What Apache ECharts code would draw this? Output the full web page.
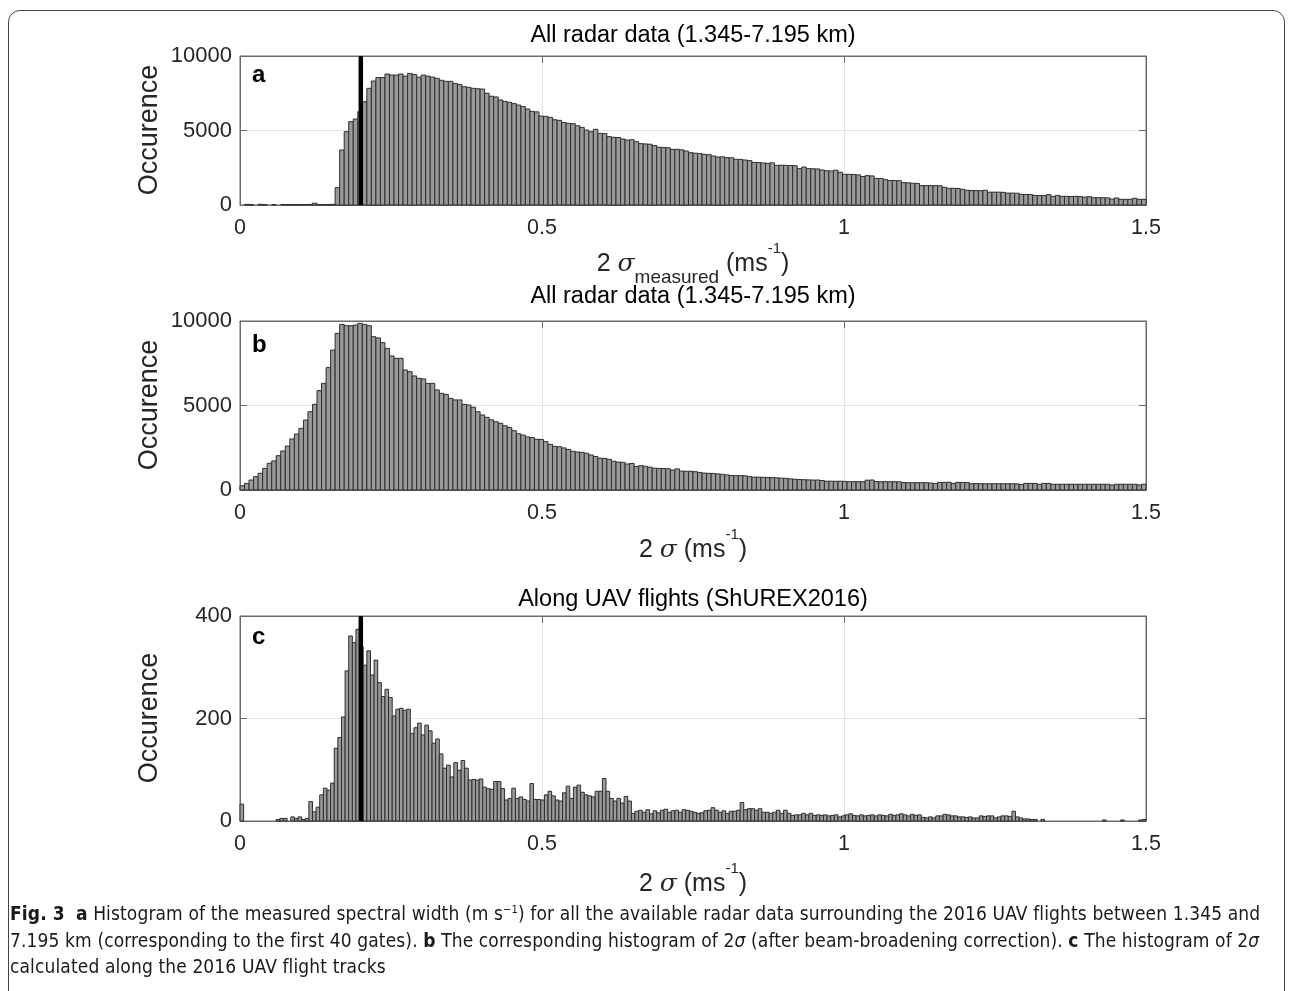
<!DOCTYPE html>
<html><head><meta charset="utf-8">
<script src="https://cdn.jsdelivr.net/npm/echarts@6/dist/echarts.min.js"></script>
<style>
html,body{margin:0;padding:0;background:#fff;width:1290px;height:991px;overflow:hidden;}
#chart{position:absolute;left:0;top:0;width:1290px;height:991px;}
#frame{position:absolute;left:8px;top:10px;width:1275px;height:1010px;border:1px solid #444;border-radius:12px;pointer-events:none;}
#caption{position:absolute;left:10px;top:900px;font-family:"Liberation Sans Narrow","DejaVu Sans Condensed","Open Sans",sans-serif;font-size:19px;letter-spacing:0.12px;line-height:26.5px;color:#1a1a1a;white-space:nowrap;}
#caption sup{font-size:11px;line-height:0;vertical-align:super;}
</style></head><body>
<div id="chart"></div>
<div id="frame"></div>
<div id="caption"><b>Fig. 3</b>&nbsp; <b>a</b> Histogram of the measured spectral width (m s<sup>−1</sup>) for all the available radar data surrounding the 2016 UAV flights between 1.345 and<br>7.195 km (corresponding to the first 40 gates). <b>b</b> The corresponding histogram of 2<i>σ</i> (after beam-broadening correction). <b>c</b> The histogram of 2<i>σ</i><br>calculated along the 2016 UAV flight tracks</div>
<script>
// ---------------- data ----------------
const binWidthAB = 0.0075;   // bin width of panels a and b (200 bins over 0-1.5)
const binWidthC = 0.006;     // bin width of panel c (250 bins over 0-1.5)
const xTickLabels = ['0', '0.5', '1', '1.5'];
const markerX = 0.2;         // thick black reference line (panels a and c)

const titles = ['All radar data (1.345-7.195 km)', 'All radar data (1.345-7.195 km)', 'Along UAV flights (ShUREX2016)'];
const panelLetters = ['a', 'b', 'c'];
const yTickLabelsAB = ['0', '5000', '10000'];
const yTickLabelsC = ['0', '200', '400'];
const yLabel = 'Occurence';

const countsA = [
0,40,30,0,50,30,0,20,0,30,30,30,30,30,30,40,120,30,30,30,40,
1160,3690,4920,5590,5770,6260,6930,7830,8320,8550,8550,8790,
8720,8720,8790,8650,8830,8760,8580,8720,8650,8580,8500,8370,8300,8300,8150,8080,7940,7900,
7830,7800,7780,7500,7300,7250,7050,6950,6890,6800,
6710,6600,6440,6280,6250,5970,5950,5880,5720,5680,
5540,5480,5460,5320,5210,5030,4920,5080,4810,4790,
4590,4540,4530,4430,4360,4380,4250,4120,4100,4080,
3990,3880,3860,3840,3730,3740,3700,3620,3510,3480,
3450,3400,3380,3290,3220,3230,3180,3170,3070,3060,
3020,2980,2860,2850,2820,2800,2830,2660,2670,2660,
2650,2640,2440,2550,2440,2430,2420,
2350,2300,2280,2340,2200,2060,2060,2050,2020,1910,
1970,1950,1790,1780,1700,1640,1640,1630,1500,1490,
1460,1450,1300,1300,1300,1300,1290,1190,1120,1120,
1110,1050,990,970,970,960,990,860,860,860,
850,800,800,790,710,710,700,640,640,630,
700,580,640,580,580,570,580,560,530,560,
490,490,490,480,400,470,380,380,380,450,
380,380
];

const countsB = [
250,390,590,790,990,1280,1580,1720,2030,2310,
2600,3020,3310,3650,4140,4630,5070,5880,6310,7240,
8280,9270,9800,9720,9720,9760,9860,9800,9720,9070,
9000,8720,8380,7930,7790,7790,7100,7000,6750,6610,
6570,6310,6310,5920,5720,5660,5420,5330,5330,5070,
5030,4900,4630,
4440,4300,4150,4040,3950,3800,3700,3510,
3330,3250,3140,3100,3000,2990,2860,2700,2580,2560,
2490,2400,2290,2250,2230,2170,2070,1980,1880,1870,
1810,1700,1650,1640,1540,1570,1390,1440,1400,1350,
1290,1280,1270,1260,1180,1250,1120,1110,1110,1080,
1040,1000,985,980,950,930,890,860,850,850,
840,790,760,760,750,740,730,720,700,690,
660,640,620,610,600,590,590,
560,520,520,515,520,510,490,495,490,490,
580,590,500,490,490,485,490,480,440,430,
430,430,430,430,410,390,450,450,460,390,
450,450,440,370,380,370,370,370,370,370,
370,370,370,360,330,390,390,390,340,390,
390,340,340,340,340,340,340,340,340,340,
340,340,340,340,290,340,340,340,340,340,
300,340
];

const countsC = [
33,
0,0,0,0,0,0,0,0,0,
3,5,5,0,8,5,8,3,5,
38,18,27,51,64,60,74,142,163,203,293,361,
348,374,340,304,332,285,314,270,243,257,
241,205,218,220,216,218,171,182,191,168,
187,176,152,160,131,103,109,86,114,99,
118,103,80,81,80,82,66,63,62,77,
77,63,41,44,64,44,47,42,39,73,
42,42,41,51,58,49,41,39,55,68,
44,66,70,56,51,49,47,58,58,83,
58,44,39,44,35,48,39,15,19,21,
17,22,14,20,16,21,23,17,20,21,
17,22,21,19,17,15,16,20,21,26,
21,17,20,15,19,19,21,36,22,24,
24,21,24,17,17,15,17,21,15,21,
15,11,12,12,15,12,15,11,12,11,
12,10,11,12,8,10,12,14,11,10,
12,10,11,12,10,12,11,10,13,11,
12,14,12,10,13,11,12,7,6,8,
6,10,10,13,12,10,10,8,8,7,
8,6,6,10,9,10,10,6,8,10,
10,9,19,8,6,4,4,3,3,0,
3,0,0,0,0,0,0,0,0,0,
0,0,0,0,0,0,0,2,0,0,
0,0,2,0,0,0,0,2,3
];

// ---------------- chart ----------------
const FONT = '"Liberation Sans", Arial, Helvetica, sans-serif';
const AXIS_COLOR = '#6b6b6b';
const TEXT_COLOR = '#262626';
const GRID_COLOR = '#e4e4e4';

const grids = [
  {left: 240, top: 56, width: 906, height: 149},
  {left: 240, top: 321, width: 906, height: 169},
  {left: 240, top: 616, width: 906, height: 205}
];
const panels = [
  {counts: countsA, bw: binWidthAB, ticks: yTickLabelsAB, marker: true},
  {counts: countsB, bw: binWidthAB, ticks: yTickLabelsAB, marker: false},
  {counts: countsC, bw: binWidthC, ticks: yTickLabelsC, marker: true}
];

const xAxes = [], yAxes = [], series = [];
panels.forEach((p, gi) => {
  const xmin = Number(xTickLabels[0]), xmax = Number(xTickLabels[xTickLabels.length - 1]);
  const xint = Number(xTickLabels[1]) - Number(xTickLabels[0]);
  const ymin = Number(p.ticks[0]), ymax = Number(p.ticks[p.ticks.length - 1]);
  const yint = Number(p.ticks[1]) - Number(p.ticks[0]);
  const common = {
    type: 'value', gridIndex: gi,
    axisLine: {show: true, onZero: false, lineStyle: {color: AXIS_COLOR, width: 1}},
    axisTick: {show: true, inside: true, length: 7, lineStyle: {color: AXIS_COLOR}}
  };
  xAxes.push(Object.assign({}, common, {
    position: 'bottom', min: xmin, max: xmax, interval: xint,
    axisLabel: {fontSize: 21.5, fontFamily: FONT, color: TEXT_COLOR, margin: 12,
      formatter: v => String(+(+v).toFixed(2))},
    splitLine: {show: true, lineStyle: {color: GRID_COLOR, width: 1}}
  }));
  xAxes.push(Object.assign({}, common, {
    position: 'top', min: xmin, max: xmax, interval: xint,
    axisLabel: {show: false}, splitLine: {show: false}
  }));
  yAxes.push(Object.assign({}, common, {
    position: 'left', min: ymin, max: ymax, interval: yint,
    axisLabel: {fontSize: 22, fontFamily: FONT, color: TEXT_COLOR, margin: 8,
      formatter: v => String(Math.round(v))},
    splitLine: {show: true, lineStyle: {color: GRID_COLOR, width: 1}}
  }));
  yAxes.push(Object.assign({}, common, {
    position: 'right', min: ymin, max: ymax, interval: yint,
    axisLabel: {show: false}, splitLine: {show: false}
  }));

  const data = p.counts.map((c, i) => [i * p.bw, (i + 1) * p.bw, c]);
  series.push({
    type: 'custom', xAxisIndex: 2 * gi, yAxisIndex: 2 * gi,
    data: data, encode: {x: [0, 1], y: 2}, silent: true, z: 3,
    renderItem: (params, api) => {
      const c = api.value(2);
      if (!(c > 0)) return null;
      const p0 = api.coord([api.value(0), c]);
      const p1 = api.coord([api.value(1), 0]);
      return {
        type: 'rect',
        shape: {x: p0[0], y: p0[1], width: p1[0] - p0[0], height: p1[1] - p0[1]},
        style: {fill: '#9a9a9a', stroke: '#2e2e2e', lineWidth: 1}
      };
    }
  });
  if (p.marker) {
    series.push({
      type: 'line', xAxisIndex: 2 * gi, yAxisIndex: 2 * gi,
      data: [[markerX, ymin], [markerX, ymax]], symbol: 'none', silent: true, z: 5,
      lineStyle: {color: '#000', width: 4.5}
    });
  }
});

const titleY = [36, 297, 600];
const letterY = [75, 345, 637];
const yLabelY = [130, 405, 718];
const xLabelY = [264, 550, 884];
const graphic = [];
titles.forEach((t, i) => {
  graphic.push({type: 'text', x: 693, y: titleY[i], silent: true,
    style: {text: t, align: 'center', verticalAlign: 'middle', fontSize: 23.5, fontFamily: FONT, fill: '#000'}});
  graphic.push({type: 'text', x: 252, y: letterY[i], silent: true,
    style: {text: panelLetters[i], align: 'left', verticalAlign: 'middle', fontSize: 24, fontWeight: 'bold', fontFamily: FONT, fill: '#000'}});
  graphic.push({type: 'text', x: 150, y: yLabelY[i], rotation: Math.PI / 2, silent: true,
    style: {text: yLabel, align: 'center', verticalAlign: 'middle', fontSize: 27, fontFamily: FONT, fill: TEXT_COLOR}});
});
const richX = {
  n: {fontSize: 25, fontFamily: FONT, lineHeight: 46, verticalAlign: 'middle', fill: TEXT_COLOR},
  it: {fontSize: 25, fontFamily: '"DejaVu Serif", "Liberation Serif", serif', fontStyle: 'italic', lineHeight: 46, verticalAlign: 'middle', fill: TEXT_COLOR},
  sub: {fontSize: 19, fontFamily: FONT, lineHeight: 28, verticalAlign: 'bottom', fill: TEXT_COLOR},
  sup: {fontSize: 15, fontFamily: FONT, lineHeight: 36, verticalAlign: 'top', fill: TEXT_COLOR}
};
const xLabels = [
  '{n|2 }{it|σ}{sub|measured}{n| (ms}{sup|-1}{n|)}',
  '{n|2 }{it|σ}{n| (ms}{sup|-1}{n|)}',
  '{n|2 }{it|σ}{n| (ms}{sup|-1}{n|)}'
];
xLabels.forEach((t, i) => {
  graphic.push({type: 'text', x: 693, y: xLabelY[i], silent: true,
    style: {text: t, rich: richX, align: 'center', verticalAlign: 'middle', fontSize: 25, fontFamily: FONT, fill: TEXT_COLOR}});
});

const chart = echarts.init(document.getElementById('chart'), null, {renderer: 'canvas'});
chart.setOption({
  animation: false,
  backgroundColor: '#fff',
  grid: grids.map(g => Object.assign({show: true, borderColor: AXIS_COLOR, borderWidth: 1, backgroundColor: 'transparent', containLabel: false}, g)),
  xAxis: xAxes,
  yAxis: yAxes,
  series: series,
  graphic: graphic
});
</script>
</body></html>
